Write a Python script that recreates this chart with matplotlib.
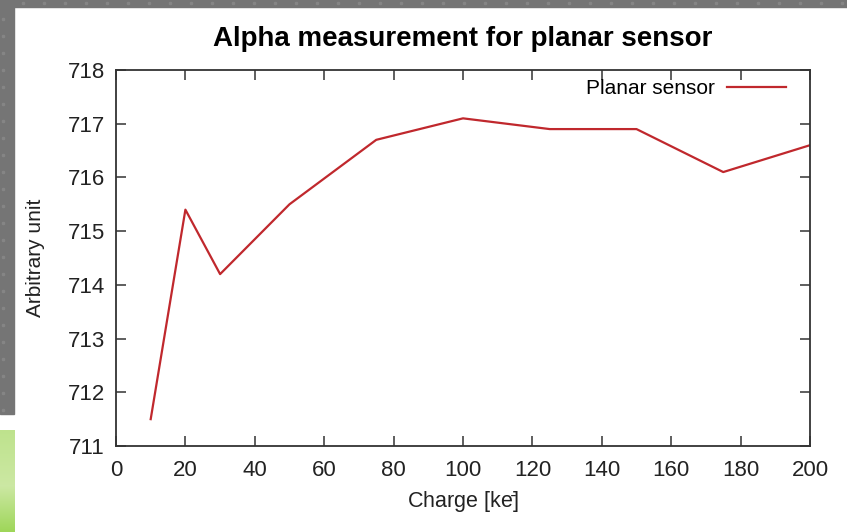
import numpy as np
import matplotlib
matplotlib.use("Agg")
import matplotlib.pyplot as plt
from matplotlib.patches import Rectangle

plt.rcParams['font.family'] = ['Liberation Sans', 'DejaVu Sans']

# Measured alpha response vs injected charge
charge = [10, 20, 30, 50, 75, 100, 125, 150, 175, 200]
alpha = [711.5, 715.4, 714.2, 715.5, 716.7, 717.1, 716.9, 716.9, 716.1, 716.6]
xticks = list(range(0, 201, 20))
yticks = list(range(711, 719))

W, H = 847, 532
fig = plt.figure(figsize=(W / 100, H / 100), dpi=100)
fig.patch.set_facecolor('white')

# Slide frame: grey band on top and left, green strip lower left
gray = '#757575'
fig.patches.append(Rectangle((0, 1 - 7 / H), 1, 7 / H, transform=fig.transFigure,
                             color=gray, zorder=0))
fig.patches.append(Rectangle((0, 1 - 414 / H), 14 / W, 414 / H, transform=fig.transFigure,
                             color=gray, zorder=0))
# faint dotted texture on the grey band
for px in range(22, W, 21):
    fig.patches.append(Rectangle((px / W, 1 - 4 / H), 2 / W, 2 / H,
                                 transform=fig.transFigure, color='#858585', zorder=1))
for py in range(20, 414, 17):
    fig.patches.append(Rectangle((2 / W, 1 - py / H), 2 / W, 2 / H,
                                 transform=fig.transFigure, color='#858585', zorder=1))

gax = fig.add_axes([0, 0, 14 / W, 102 / H])
grad = np.linspace(0, 1, 100)
greens = np.interp(grad, [0, 0.45, 1], [0, 1, 0.7])
c0 = np.array([0.62, 0.84, 0.35])
c1 = np.array([0.80, 0.91, 0.64])
img = c0[None, None, :] + (c1 - c0)[None, None, :] * greens[::-1, None, None]
gax.imshow(img, aspect='auto', extent=[0, 1, 0, 1])
gax.axis('off')

ax = fig.add_axes([116 / W, 1 - 446 / H, (810 - 116) / W, (446 - 70) / H])
line_color = '#c0282d'
ax.plot(charge, alpha, color=line_color, lw=1.6, label='Planar sensor')

ax.set_xlim(0, 200)
ax.set_ylim(711, 718)
ax.set_xticks(xticks)
ax.set_yticks(yticks)

edge = '#333333'
text_color = '#222222'
for spine in ax.spines.values():
    spine.set_color(edge)
    spine.set_linewidth(1.3)
ax.tick_params(direction='in', length=7, width=1.1, color=edge, top=True, right=True,
               labelsize=16, labelcolor=text_color)
ax.tick_params(axis='x', pad=10)
ax.tick_params(axis='y', pad=8)

ax.set_xlabel('Charge [ke$^{\\bar{}}$]', fontsize=15.5, color=text_color, labelpad=6)
ax.set_ylabel('Arbitrary unit', fontsize=15, color=text_color, labelpad=16)
ax.set_title('Alpha measurement for planar sensor', fontsize=20, fontweight='bold',
             pad=17)

ax.legend(loc='center right', bbox_to_anchor=(0.965, 0.95), frameon=False,
          fontsize=15, markerfirst=False, handlelength=2.8, handletextpad=0.6,
          borderpad=0, borderaxespad=0)

fig.savefig('out.png', dpi=100)
